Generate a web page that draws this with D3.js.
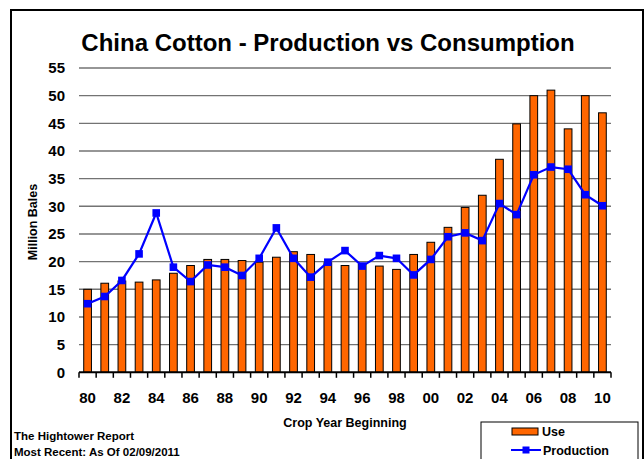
<!DOCTYPE html>
<html>
<head>
<meta charset="utf-8">
<script src="https://cdn.jsdelivr.net/npm/d3@7"></script>
<style>
  html, body { margin: 0; padding: 0; background: #fff; }
  svg { display: block; font-family: "Liberation Sans", Arial, sans-serif; font-weight: bold; }
</style>
</head>
<body>
<svg id="chart" width="644" height="459"></svg>
<script>
// Crop years 1980 through 2010
const years = d3.range(1980, 2011);

// China cotton use (million bales)
const useValues = [
  15.0, 16.1, 16.5, 16.3, 16.7, 17.9, 19.3, 20.4, 20.4, 20.2,
  19.9, 20.8, 21.8, 21.3, 19.8, 19.3, 19.5, 19.2, 18.6, 21.3,
  23.5, 26.2, 29.8, 32.0, 38.5, 44.9, 50.0, 51.0, 44.0, 50.0,
  46.9
];

// China cotton production (million bales)
const productionValues = [
  12.4, 13.7, 16.6, 21.4, 28.8, 19.0, 16.4, 19.4, 19.0, 17.5,
  20.6, 26.1, 20.6, 17.2, 19.9, 22.0, 19.2, 21.1, 20.6, 17.6,
  20.4, 24.5, 25.2, 23.8, 30.5, 28.5, 35.7, 37.1, 36.7, 32.1,
  30.1
];

const yTicks = d3.range(0, 56, 5);
const xLabelYears = years.filter(y => y % 2 === 0);

const svg = d3.select("#chart");
const margin = { left: 79, right: 611, top: 68, bottom: 372.3 };

const x = d3.scaleBand()
  .domain(years)
  .range([margin.left, margin.right])
  .paddingInner(0.55)
  .paddingOuter(0.275);

const y = d3.scaleLinear()
  .domain([0, 55])
  .range([margin.bottom, margin.top]);

// background and outer frame
svg.append("rect").attr("width", 644).attr("height", 459).attr("fill", "#fff");
svg.append("rect")
  .attr("x", 11).attr("y", 10).attr("width", 632).attr("height", 470)
  .attr("fill", "none").attr("stroke", "#000").attr("stroke-width", 2);

// title
svg.append("text")
  .attr("x", 328).attr("y", 51)
  .attr("text-anchor", "middle")
  .attr("font-size", 24)
  .text("China Cotton - Production vs Consumption");

// horizontal gridlines
svg.append("g")
  .selectAll("line")
  .data(yTicks.filter(d => d > 0))
  .join("line")
  .attr("x1", margin.left).attr("x2", margin.right)
  .attr("y1", d => y(d)).attr("y2", d => y(d))
  .attr("stroke", "#737373").attr("stroke-width", 1.4);

// y axis labels
const yAxis = d3.axisLeft(y).tickValues(yTicks).tickSize(0).tickPadding(14);
svg.append("g")
  .attr("transform", `translate(${margin.left},0)`)
  .call(yAxis)
  .call(g => g.select(".domain").remove())
  .call(g => g.selectAll("text")
    .attr("font-size", 15).attr("font-weight", "bold")
    .attr("font-family", "Liberation Sans, Arial, sans-serif")
    .attr("fill", "#000"));

// y axis title
svg.append("text")
  .attr("transform", "translate(37,222) rotate(-90)")
  .attr("text-anchor", "middle")
  .attr("font-size", 12.5)
  .text("Million Bales");

// use bars
svg.append("g")
  .selectAll("rect")
  .data(years)
  .join("rect")
  .attr("x", d => x(d))
  .attr("width", x.bandwidth())
  .attr("y", (d, i) => y(useValues[i]))
  .attr("height", (d, i) => y(0) - y(useValues[i]))
  .attr("fill", "#ff6600")
  .attr("stroke", "#000")
  .attr("stroke-width", 1);

// x axis line with ticks at category boundaries
const step = x.step();
const boundaries = d3.range(years.length + 1).map(i => margin.left + i * step);
svg.append("line")
  .attr("x1", margin.left).attr("x2", margin.right)
  .attr("y1", y(0)).attr("y2", y(0))
  .attr("stroke", "#000").attr("stroke-width", 2);
svg.append("g")
  .selectAll("line")
  .data(boundaries)
  .join("line")
  .attr("x1", d => d).attr("x2", d => d)
  .attr("y1", y(0)).attr("y2", y(0) + 5.5)
  .attr("stroke", "#000").attr("stroke-width", 1.5);

// x axis labels, every other year
svg.append("g")
  .selectAll("text")
  .data(xLabelYears)
  .join("text")
  .attr("x", d => x(d) + x.bandwidth() / 2)
  .attr("y", 403.3)
  .attr("text-anchor", "middle")
  .attr("font-size", 15)
  .text(d => String(d % 100).padStart(2, "0"));

// x axis title
svg.append("text")
  .attr("x", 345).attr("y", 427)
  .attr("text-anchor", "middle")
  .attr("font-size", 12.5)
  .text("Crop Year Beginning");

// production line and markers
const cx = d => x(d) + x.bandwidth() / 2;
const line = d3.line()
  .x(d => cx(d))
  .y((d, i) => y(productionValues[i]));
svg.append("path")
  .datum(years)
  .attr("d", line)
  .attr("fill", "none")
  .attr("stroke", "#0000ff")
  .attr("stroke-width", 2.2);
svg.append("g")
  .selectAll("rect")
  .data(years)
  .join("rect")
  .attr("x", d => cx(d) - 3.8)
  .attr("y", (d, i) => y(productionValues[i]) - 3.8)
  .attr("width", 7.6).attr("height", 7.6)
  .attr("fill", "#0000ff");

// source notes
svg.append("text")
  .attr("x", 14).attr("y", 440)
  .attr("font-size", 11.5)
  .text("The Hightower Report");
svg.append("text")
  .attr("x", 14).attr("y", 455.5)
  .attr("font-size", 11.5)
  .text("Most Recent: As Of 02/09/2011");

// legend
const legend = svg.append("g");
legend.append("rect")
  .attr("x", 481).attr("y", 422).attr("width", 157).attr("height", 60)
  .attr("fill", "#fff").attr("stroke", "#000").attr("stroke-width", 1);
legend.append("rect")
  .attr("x", 512).attr("y", 428).attr("width", 26).attr("height", 7)
  .attr("fill", "#ff6600").attr("stroke", "#000").attr("stroke-width", 1);
legend.append("text")
  .attr("x", 542).attr("y", 435.5)
  .attr("font-size", 12.5)
  .text("Use");
legend.append("line")
  .attr("x1", 511).attr("x2", 541).attr("y1", 450).attr("y2", 450)
  .attr("stroke", "#0000ff").attr("stroke-width", 2);
legend.append("rect")
  .attr("x", 522.5).attr("y", 446.5).attr("width", 7).attr("height", 7)
  .attr("fill", "#0000ff");
legend.append("text")
  .attr("x", 543).attr("y", 454.5)
  .attr("font-size", 12.5)
  .text("Production");
</script>
</body>
</html>
